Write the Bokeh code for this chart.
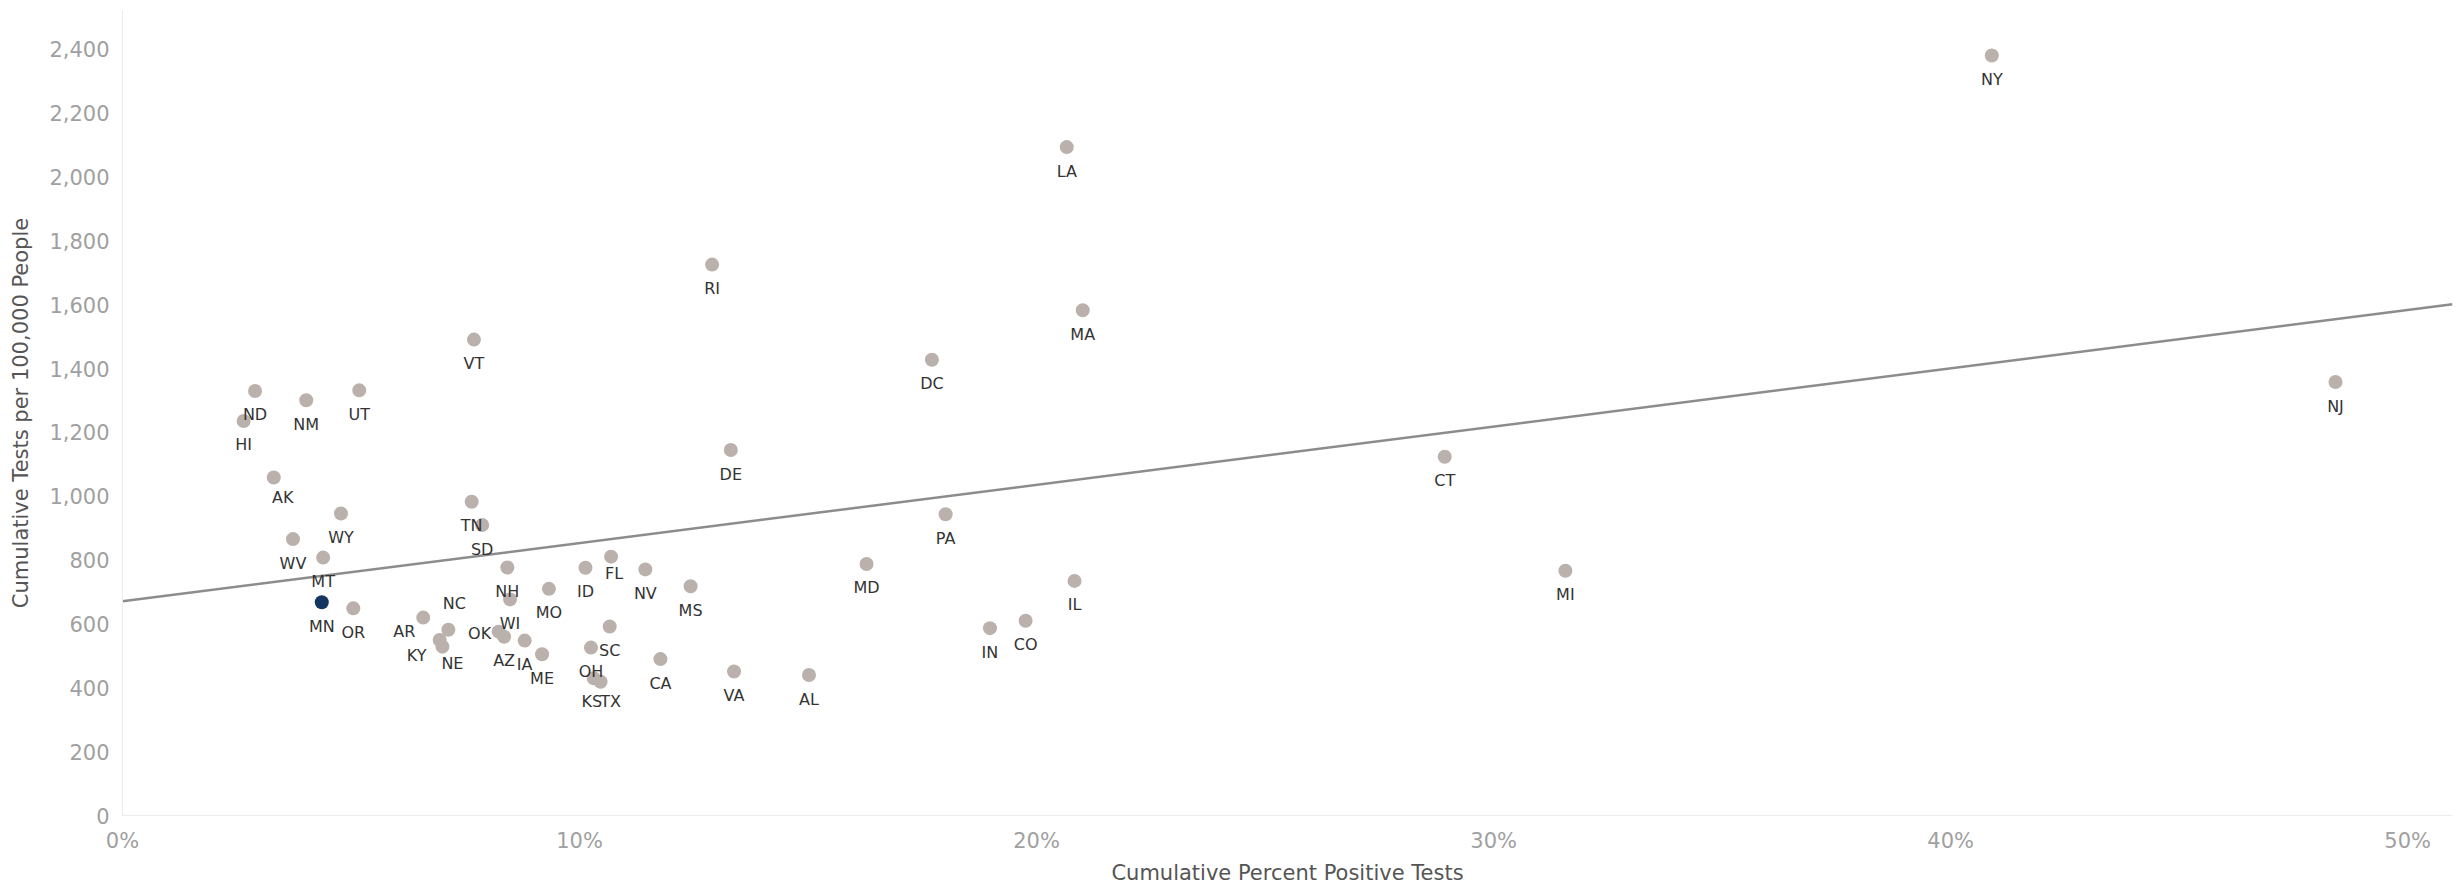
from bokeh.plotting import figure
from bokeh.models import ColumnDataSource, NumeralTickFormatter, FixedTicker, Range1d
from bokeh.embed import file_html
from bokeh.resources import INLINE
from bokeh.core.properties import value

# ---- data ----
states = ["VT", "ND", "HI", "NM", "UT", "AK", "WY", "WV", "MT", "MN",
          "OR", "AR", "NC", "KY", "NE", "TN", "SD", "NH", "WI", "OK",
          "AZ", "IA", "ME", "MO", "ID", "FL", "NV", "MS", "SC", "OH",
          "KS", "TX", "CA", "VA", "AL", "MD", "RI", "MA", "DC", "DE",
          "PA", "IL", "IN", "CO", "LA", "NY", "NJ", "CT", "MI"]
pct_positive = [7.69, 2.90, 2.65, 4.02, 5.18, 3.31, 4.78, 3.73, 4.39, 4.36,
                5.05, 6.58, 7.13, 6.94, 7.00, 7.64, 7.87, 8.42, 8.48, 8.23,
                8.35, 8.80, 9.18, 9.33, 10.13, 10.69, 11.44, 12.43, 10.66, 10.25,
                10.31, 10.46, 11.77, 13.38, 15.02, 16.28, 12.90, 21.01, 17.71, 13.31,
                18.01, 20.83, 18.98, 19.76, 20.66, 40.90, 48.42, 28.93, 31.57]
tests_per_100k = [1491, 1330, 1236, 1301, 1332, 1059, 946, 866, 808, 668,
                  649, 620, 582, 550, 529, 983, 910, 777, 677, 576,
                  560, 548, 505, 710, 776, 811, 771, 718, 592, 526,
                  430, 419, 490, 451, 440, 788, 1726, 1583, 1428, 1145,
                  944, 735, 587, 610, 2094, 2381, 1358, 1124, 767]
highlight_state = "MN"

# linear trend line (tests per 100k vs. percent positive, in percentage points)
trend_intercept = 671.0
trend_slope = 18.25

x_tick_values = [0, 10, 20, 30, 40, 50]
y_tick_values = [0, 200, 400, 600, 800, 1000, 1200, 1400, 1600, 1800, 2000, 2200, 2400]

# ---- layout / style ----
X_END = 0.5098
Y_END = 2522
FONT = "DejaVu Sans"
DOT_GRAY = "#bab0ac"
DOT_HIGHLIGHT = "#13355f"
default_offset = (0, 24)
label_offsets = {"AK": (9, 20), "AR": (-19, 14), "NC": (6, -26), "KY": (-23, 16),
                 "NE": (10, 17), "OK": (-19, 2), "FL": (3, 17), "TX": (10, 20),
                 "KS": (-2, 23)}

xs = [p / 100.0 for p in pct_positive]
colors = [DOT_HIGHLIGHT if s == highlight_state else DOT_GRAY for s in states]
xo = [label_offsets.get(s, default_offset)[0] for s in states]
yo = [label_offsets.get(s, default_offset)[1] for s in states]

src = ColumnDataSource(dict(x=xs, y=tests_per_100k, state=states, color=colors, xo=xo, yo=yo))

p = figure(width=2459, height=887, output_backend="svg", toolbar_location=None,
           x_range=Range1d(0, X_END), y_range=Range1d(0, Y_END),
           min_border_left=122, min_border_right=7, min_border_top=10, min_border_bottom=71)
p.outline_line_color = None
p.xgrid.visible = False
p.ygrid.visible = False
p.background_fill_color = "white"
p.border_fill_color = "white"

# trend line
tx = [0, X_END]
ty = [trend_intercept, trend_intercept + trend_slope * X_END * 100]
p.line(tx, ty, line_color="#8c8c8c", line_width=2.5)

p.scatter("x", "y", source=src, size=14, fill_color="color", line_color=None)

p.text("x", "y", text="state", source=src, x_offset="xo", y_offset="yo",
       text_align="center", text_baseline="middle", text_color="#333333",
       text_font=value(FONT), text_font_size="16px")

# axes
p.xaxis.ticker = FixedTicker(ticks=[v / 100.0 for v in x_tick_values])
p.xaxis.formatter = NumeralTickFormatter(format="0%")
p.yaxis.ticker = FixedTicker(ticks=y_tick_values)
p.yaxis.formatter = NumeralTickFormatter(format="0,0")
p.xaxis.axis_label = "Cumulative Percent Positive Tests"
p.yaxis.axis_label = "Cumulative Tests per 100,000 People"

for ax in (p.xaxis[0], p.yaxis[0]):
    ax.axis_line_color = "#ebebeb"
    ax.major_tick_line_color = None
    ax.minor_tick_line_color = None
    ax.major_tick_out = 0
    ax.major_tick_in = 0
    ax.minor_tick_out = 0
    ax.minor_tick_in = 0
    ax.major_label_text_color = "#a0a0a0"
    ax.major_label_text_font = FONT
    ax.major_label_text_font_size = "21px"
    ax.axis_label_text_color = "#555555"
    ax.axis_label_text_font = FONT
    ax.axis_label_text_font_style = "normal"
    ax.axis_label_text_font_size = "21px"

p.xaxis.major_label_standoff = 13
p.xaxis.axis_label_standoff = 5
p.yaxis.major_label_standoff = 13
p.yaxis.axis_label_standoff = 13

open("out.html", "w").write(file_html(p, INLINE))
